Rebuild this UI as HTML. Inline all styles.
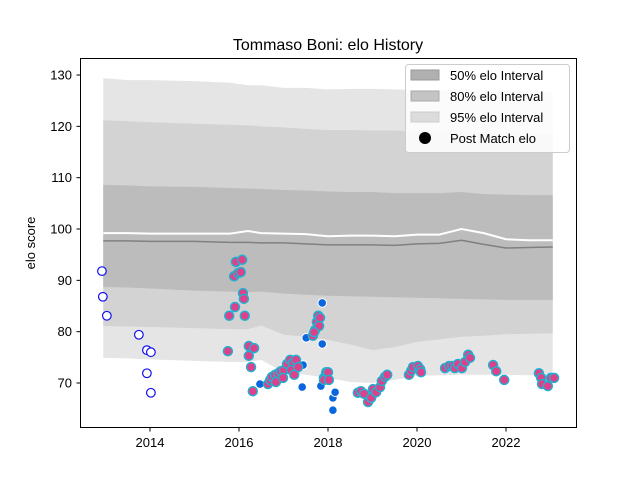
<!DOCTYPE html>
<html><head><meta charset="utf-8"><style>
body{margin:0;background:#fff;}
svg{display:block;font-family:"Liberation Sans","DejaVu Sans",sans-serif;}
</style></head><body>
<svg id="chart" width="640" height="480" viewBox="0 0 640 480" xmlns="http://www.w3.org/2000/svg">
<rect width="640" height="480" fill="#fff"/>
<text x="328" y="50" text-anchor="middle" font-size="16">Tommaso Boni: elo History</text>
<g id="bands"></g>
<g id="lines"></g>
<g id="points"></g>
<rect x="80.5" y="58.5" width="496" height="369" fill="none" stroke="#000" stroke-width="1"/>
<g id="axes" font-size="13"></g>
<text transform="translate(35,243) rotate(-90)" text-anchor="middle" font-size="13">elo score</text>
<g>
<rect x="405.5" y="64.5" width="164" height="88" rx="3" fill="#fff" fill-opacity="0.85" stroke="#ccc"/>
<g><rect x="411" y="70" width="28" height="10" fill="#b0b0b0" stroke="#999"/><text x="450" y="80" font-size="13">50% elo Interval</text></g>
<g><rect x="411" y="91" width="28" height="10" fill="#c4c4c4" stroke="#aaa"/><text x="450" y="101" font-size="13">80% elo Interval</text></g>
<g><rect x="411" y="112" width="28" height="10" fill="#dcdcdc" stroke="#ccc"/><text x="450" y="122" font-size="13">95% elo Interval</text></g>
<g><circle cx="425" cy="138" r="6" fill="#000"/><text x="450" y="143" font-size="13">Post Match elo</text></g>
</g>
</svg>
<script>
const bandYears=[2012.95,2013.5,2014,2015,2015.8,2016.2,2016.5,2017,2017.5,2018,2018.5,2019,2019.5,2020,2020.5,2021,2021.5,2022,2022.5,2023.05];
const up95=[129.4,129,129,128.8,128.5,128,128,127.5,127.5,127.2,127.3,127.3,127.2,127,127,127.3,127,126.8,126.8,126.8];
const up80=[121.2,121,120.8,120.5,120.3,120.2,120,119.8,119.5,119.3,119.3,119.2,119.2,119,119,119.2,118.8,118.6,118.5,118.5];
const up50=[108.6,108.5,108.3,108.2,108,107.9,107.8,107.6,107.5,107.3,107.2,107.2,107,107,107,107.2,106.8,106.7,106.6,106.6];
const lo50=[88.7,88.6,88.4,88,87.8,87.7,87.8,87.4,87.2,87,86.9,86.8,86.7,86.6,86.5,86.4,86.3,86.2,86.2,86.2];
const lo80=[81.1,81,80.9,80.7,80.5,80.5,81.2,79.4,79,78.4,77.5,76.4,77,78,78.5,79,79.2,79.5,79.6,79.7];
const lo95=[74.9,74.8,74.6,74.3,74.1,74.1,74.5,72.1,71.6,71,70.2,70,70.6,71.4,71.5,71.6,71.6,71.6,71.5,71.4];
const lineWhite=[99.2,99.2,99.1,99.1,99.1,99.6,99.2,99.1,99,98.6,98.7,98.7,98.6,98.9,98.9,100,99.2,98,97.8,97.8];
const lineGray=[97.7,97.7,97.6,97.6,97.4,97.4,97.3,97.3,97.1,96.9,96.9,96.9,96.8,97.1,97.2,97.8,97,96.3,96.4,96.5];
const openYears=[2012.92,2012.94,2013.03,2013.75,2013.93,2014.02,2013.93,2014.02];
const openVals=[91.8,86.8,83.1,79.4,76.4,76,71.9,68.1];
const blueYears=[2016.47,2017.51,2017.44,2017.42,2017.87,2017.87,2017.84,2018.11,2018.16,2018.11];
const blueVals=[69.8,78.8,73.5,69.2,85.6,77.6,69.4,67.1,68.2,64.7];
const pinkYears=[2015.75,2015.78,2015.91,2015.89,2015.98,2015.93,2016.07,2016.04,2016.09,2016.11,2016.13,2016.22,2016.34,2016.22,2016.27,2016.31,2016.65,2016.70,2016.74,2016.81,2016.88,2016.94,2017.01,2017.08,2017.15,2017.21,2017.28,2017.17,2017.24,2017.33,2016.83,2016.99,2017.66,2017.71,2017.75,2017.78,2017.82,2017.80,2017.69,2017.91,2017.96,2018.0,2017.91,2018.02,2018.67,2018.74,2018.81,2018.90,2018.97,2019.01,2019.08,2019.17,2019.21,2019.28,2019.33,2019.82,2019.87,2019.91,2020.02,2020.07,2020.09,2020.63,2020.72,2020.79,2020.85,2020.92,2021.01,2021.08,2021.15,2021.19,2021.71,2021.78,2021.96,2022.74,2022.79,2022.81,2022.94,2023.01,2023.08];
const pinkVals=[76.2,83.1,84.8,90.8,91.4,93.6,94.0,91.6,87.5,86.4,83.1,77.2,76.8,75.3,73.1,68.4,69.8,70.6,71.2,71.6,71.9,72.3,72.5,73.7,74.5,73.9,74.5,72.5,71.6,73.1,70.2,71,79.2,80.3,81.9,83.1,82.7,81.1,79.9,71,72.1,72.1,70.6,70.6,68.1,68.4,67.9,66.3,67.1,68.8,68.2,69.2,70.4,71.2,71.6,71.6,72.4,73.1,73.3,72.7,72.1,72.9,73.3,73.3,72.9,73.7,72.9,74.1,75.5,74.9,73.5,72.3,70.6,71.9,71,69.8,69.4,71,71];
const yTicks=[70,80,90,100,110,120,130];
const xTicks=[2014,2016,2018,2020,2022];

const NS='http://www.w3.org/2000/svg';
const X=yr=>150+(yr-2014)*44.5;
const Y=v=>383-(v-70)*5.133;
function mk(tag,attrs,parent){const e=document.createElementNS(NS,tag);for(const k in attrs)e.setAttribute(k,attrs[k]);parent.appendChild(e);return e;}
function bandPath(u,l){let d='';bandYears.forEach((yr,i)=>{d+=(i?'L':'M')+X(yr)+','+Y(u[i]);});for(let i=bandYears.length-1;i>=0;i--)d+='L'+X(bandYears[i])+','+Y(l[i]);return d+'Z';}
function linePath(a){return bandYears.map((yr,i)=>(i?'L':'M')+X(yr)+','+Y(a[i])).join('');}
const bands=document.getElementById('bands');
let b=mk('path',{d:bandPath(up95,lo95),fill:'#e5e5e5'},bands);


b=mk('path',{d:bandPath(up80,lo80),fill:'#d3d3d3'},bands);


b=mk('path',{d:bandPath(up50,lo50),fill:'#bcbcbc'},bands);


const lines=document.getElementById('lines');
let l=mk('path',{d:linePath(lineWhite),fill:'none',stroke:'#fff','stroke-width':2},lines);


l=mk('path',{d:linePath(lineGray),fill:'none',stroke:'#808080','stroke-width':1.5},lines);


const pts=document.getElementById('points');
openYears.forEach((yr,i)=>{const c=mk('circle',{cx:X(yr),cy:Y(openVals[i]),r:4.3,fill:'#fff',stroke:'#1010ee','stroke-width':1.2},pts);

});
blueYears.forEach((yr,i)=>{const c=mk('circle',{cx:X(yr),cy:Y(blueVals[i]),r:4.3,fill:'#0a66dd',stroke:'#fff','stroke-width':1},pts);

});
pinkYears.forEach((yr,i)=>{const c=mk('circle',{cx:X(yr),cy:Y(pinkVals[i]),r:4.5,fill:'#e0408a',stroke:'#20b0d0','stroke-width':1.5},pts);

});
const axes=document.getElementById('axes');
yTicks.forEach(v=>{const y=Y(v);mk('line',{x1:76.5,x2:80.5,y1:y,y2:y,stroke:'#000'},axes);
const t=mk('text',{x:72,y:y+4.5,'text-anchor':'end'},axes);t.textContent=v;

});
xTicks.forEach(yr=>{const x=X(yr);mk('line',{x1:x,x2:x,y1:427.5,y2:431.5,stroke:'#000'},axes);
const t=mk('text',{x:x,y:447,'text-anchor':'middle'},axes);t.textContent=yr;

});
</script>
</body></html>
